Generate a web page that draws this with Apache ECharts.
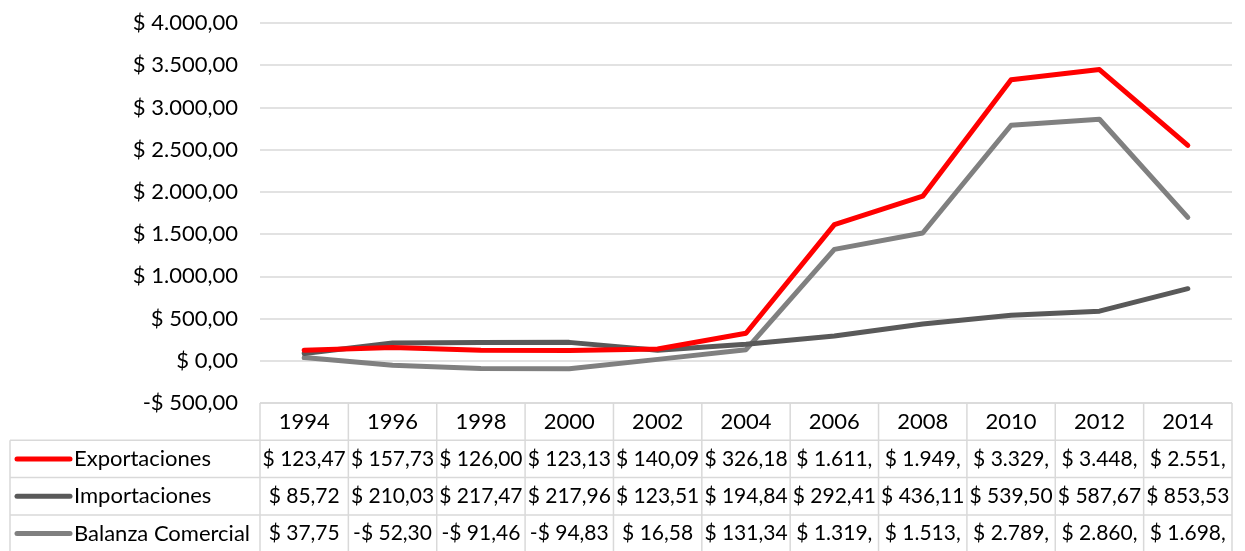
<!DOCTYPE html>
<html>
<head>
<meta charset="utf-8">
<title>Exportaciones, Importaciones y Balanza Comercial</title>
<script src="https://cdn.jsdelivr.net/npm/echarts@6/dist/echarts.min.js"></script>
<style>
  html, body { margin: 0; padding: 0; background: #ffffff; }
  #chart { width: 1245px; height: 551px; }
</style>
</head>
<body>
<div id="chart"></div>
<script>
// Years on the category axis
const years = ['1994', '1996', '1998', '2000', '2002', '2004', '2006', '2008', '2010', '2012', '2014'];

// Series values (USD millions)
const exportaciones = [123.47, 157.73, 126.00, 123.13, 140.09, 326.18, 1611.70, 1949.50, 3329.10, 3448.20, 2551.90];
const importaciones = [85.72, 210.03, 217.47, 217.96, 123.51, 194.84, 292.41, 436.11, 539.50, 587.67, 853.53];
const balanza = [37.75, -52.30, -91.46, -94.83, 16.58, 131.34, 1319.29, 1513.39, 2789.60, 2860.53, 1698.37];

const seriesNames = ['Exportaciones', 'Importaciones', 'Balanza Comercial'];
const seriesColors = ['#ff0000', '#595959', '#808080'];

// Value axis range
const yMin = -500;
const yMax = 4000;
const yStep = 500;

const FONT = 'Lato, "Open Sans", sans-serif';
const FONT_SIZE = 22;
const CELL_FONT_SIZE = 21;
const GRID_COLOR = '#d9d9d9';

// "$ 1.234,56" / "-$ 52,30"
function money(v) {
  const neg = v < 0;
  const abs = Math.abs(v);
  const parts = abs.toFixed(2).split('.');
  const intPart = parts[0].replace(/\B(?=(\d{3})+(?!\d))/g, '.');
  return (neg ? '-$ ' : '$ ') + intPart + ',' + parts[1];
}

// Table cells only hold eight characters; longer values are clipped
function cellText(v) {
  return money(v).slice(0, 8);
}

const seriesData = [exportaciones, importaciones, balanza];

const chart = echarts.init(document.getElementById('chart'), null, { renderer: 'canvas' });

const option = {
  animation: false,
  backgroundColor: '#ffffff',
  textStyle: { fontFamily: FONT },
  grid: { left: 260, right: 13, top: 23, bottom: 148, containLabel: false },
  xAxis: {
    type: 'category',
    data: years,
    boundaryGap: true,
    axisLine: { show: false },
    axisTick: { show: false },
    axisLabel: { show: false },
    splitLine: { show: false }
  },
  yAxis: {
    type: 'value',
    min: yMin,
    max: yMax,
    interval: yStep,
    axisLine: { show: false },
    axisTick: { show: false },
    axisLabel: {
      margin: 22,
      color: '#000000',
      fontFamily: FONT,
      fontSize: FONT_SIZE,
      formatter: (v) => money(v)
    },
    splitLine: { show: true, lineStyle: { color: GRID_COLOR, width: 1.5 } }
  },
  series: seriesNames.map((name, i) => ({
    name: name,
    type: 'line',
    data: seriesData[i],
    symbol: 'none',
    smooth: false,
    lineStyle: { color: seriesColors[i], width: 5, cap: 'round', join: 'round' },
    itemStyle: { color: seriesColors[i] },
    z: 3 - i
  }))
};

chart.setOption(option);

// Data table under the plot, aligned to the category bands
function buildTable() {
  const xs = years.map((_, i) => chart.convertToPixel({ xAxisIndex: 0 }, i));
  const half = (xs[1] - xs[0]) / 2;
  const tableTop = chart.convertToPixel({ yAxisIndex: 0 }, yMin);
  const tableLeft = xs[0] - half;
  const tableRight = xs[xs.length - 1] + half;
  const outerLeft = 10;
  const rowH = 37.3;
  const bottom = tableTop + rowH * 4;
  const els = [];
  const border = { stroke: GRID_COLOR, lineWidth: 1.5 };

  // horizontal rules
  els.push({ type: 'line', silent: true, shape: { x1: tableLeft, y1: tableTop, x2: tableRight, y2: tableTop }, style: border });
  for (let r = 1; r <= 4; r++) {
    const y = tableTop + rowH * r;
    els.push({ type: 'line', silent: true, shape: { x1: outerLeft, y1: y, x2: tableRight, y2: y }, style: border });
  }
  // vertical rules
  for (let c = 0; c <= years.length; c++) {
    const x = tableLeft + c * half * 2;
    els.push({ type: 'line', silent: true, shape: { x1: x, y1: tableTop, x2: x, y2: bottom }, style: border });
  }
  els.push({ type: 'line', silent: true, shape: { x1: outerLeft, y1: tableTop + rowH, x2: outerLeft, y2: bottom }, style: border });

  // header row with the years
  years.forEach((yr, i) => {
    els.push({
      type: 'text', silent: true, x: xs[i], y: tableTop + rowH / 2,
      style: { text: yr, fill: '#000000', fontFamily: FONT, fontSize: FONT_SIZE, align: 'center', verticalAlign: 'middle' }
    });
  });

  // one row per series: legend key, name, then values
  seriesNames.forEach((name, s) => {
    const cy = tableTop + rowH * (s + 1.5);
    els.push({
      type: 'line', silent: true,
      shape: { x1: 17, y1: cy, x2: 70, y2: cy },
      style: { stroke: seriesColors[s], lineWidth: 5, lineCap: 'round' }
    });
    els.push({
      type: 'text', silent: true, x: 74, y: cy,
      style: { text: name, fill: '#000000', fontFamily: FONT, fontSize: FONT_SIZE, align: 'left', verticalAlign: 'middle' }
    });
    seriesData[s].forEach((v, i) => {
      els.push({
        type: 'text', silent: true, x: xs[i], y: cy,
        style: { text: cellText(v), fill: '#000000', fontFamily: FONT, fontSize: CELL_FONT_SIZE, align: 'center', verticalAlign: 'middle' }
      });
    });
  });

  chart.setOption({ graphic: { elements: els } });
}

buildTable();
</script>
</body>
</html>
